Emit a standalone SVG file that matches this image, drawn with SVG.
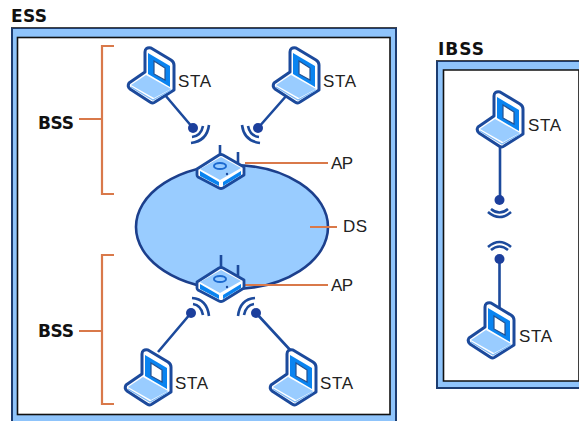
<svg xmlns="http://www.w3.org/2000/svg" xmlns:xlink="http://www.w3.org/1999/xlink" width="579" height="421" viewBox="0 0 579 421">
<style>
.t{font-family:"Liberation Sans",Arial,sans-serif;font-size:17px;fill:#222}
.b{font-family:"DejaVu Sans",Verdana,sans-serif;font-size:17px;font-weight:bold;fill:#111}
.o{fill:none;stroke:#d9794a;stroke-width:2.2}
.l{fill:none;stroke:#1c4a9c;stroke-width:2.6}
.w{fill:none;stroke:#1c4a9c;stroke-width:2.6}
</style>
<defs>
<g id="laptop">
<path d="M1,35 L17,24 V4 Q17,-1 23,0 L43,12 Q46,14 46,17 V42 L27,54 Q25,56 22,54 L2,41 Q-1,38 1,35Z" fill="#fff" stroke="#1c4a9c" stroke-width="3" stroke-linejoin="round"/>
<path d="M20,5 L42,18 V39 L20,26Z" fill="#0a84f0"/>
<path d="M26,13 L37,20 V32 L26,26Z" fill="#fff" stroke="#24508f" stroke-width="1.200"/>
<path d="M3,37 L18,27 L43,41 L26,50Z" fill="#99ccff"/>
<path d="M3,39 L25,52 L43,42" fill="none" stroke="#7db8f5" stroke-width="1.200"/>
</g>
<g id="router">
<path d="M0,18 L22,4 Q24,3 26,4 L47,16 V24 L26,37 Q24,38 22,37 L1,26 Q0,25 0,24Z" fill="#fff" stroke="#1c4a9c" stroke-width="2.800" stroke-linejoin="round"/>
<path d="M3,18 L24,6 L44,17 L23,29Z" fill="#99ccff"/>
<path d="M3,20 L22,31 V35 L3,25Z" fill="#0a84f0"/>
<path d="M26,31 L44,20 V24 L26,35Z" fill="#0a84f0"/>
<ellipse cx="23" cy="15" rx="6" ry="3" fill="none" stroke="#1c6ad0" stroke-width="2"/>
<circle cx="30" cy="23" r="1.200" fill="#1c4a9c"/>
</g>
</defs>
<rect width="579" height="421" fill="#fff"/>
<g id="ess-frame">
<path d="M12,421 V28 H396 V421" fill="#8fc4fb" stroke="#1c3c70" stroke-width="2"/>
<path d="M11.500,27.500 H396.500" stroke="#444" fill="none"/>
<rect x="17.500" y="37.500" width="372.500" height="377" fill="#fff" stroke="#111" stroke-width="1.600"/>
<text class="b" x="11" y="22" textLength="36">ESS</text>
</g>
<g id="ibss-frame">
<path d="M579,61 H437 V388 H579" fill="#8fc4fb" stroke="#1c3c70" stroke-width="2"/>
<path d="M436,60.500 H579" stroke="#444" fill="none"/>
<path d="M579,70 H443.500 V381 H579Z" fill="#fff" stroke="#111" stroke-width="1.600"/>
<text class="b" x="438" y="55" textLength="46">IBSS</text>
</g>
<g id="ds">
<ellipse cx="232" cy="227" rx="96" ry="62" fill="#99ccff" stroke="#1c3f8c" stroke-width="2.600"/>
<text class="t" x="343" y="232" textLength="24">DS</text>
</g>
<g id="connectors">
<path class="o" d="M114,46 H102 V194 H114 M79,119 H102"/>
<path class="o" d="M114,255 H102 V404 H114 M79,331 H102"/>
<path class="o" d="M245,163 H328 M245,285 H328 M310,227 H337"/>
<path class="l" d="M165,95 L193,128 M287,95 L258,128 M158,352 L191,313 M292,352 L256,313 M500,145 V200 M499.500,259 V310"/>
<g id="radio-links">
<circle cx="193" cy="128" r="5" fill="#1c3f9c"/><circle cx="258" cy="128" r="5" fill="#1c3f9c"/>
<circle cx="191" cy="313" r="5" fill="#1c3f9c"/><circle cx="256" cy="313" r="5" fill="#1c3f9c"/>
<circle cx="499.500" cy="200" r="5" fill="#1c3f9c"/><circle cx="499.500" cy="259" r="5" fill="#1c3f9c"/>
<path class="w" d="M192,137 Q201,136 203,126 M191,143 Q207,141 209,125"/>
<path class="w" d="M259,137 Q250,136 248,126 M260,143 Q244,141 242,125"/>
<path class="w" d="M193,304 Q201,305 203,315 M192,298 Q207,299 209,316"/>
<path class="w" d="M254,304 Q246,305 244,315 M255,298 Q240,299 238,316"/>
<path class="w" d="M491,209 Q499.500,216 508,209 M488,212 Q499.500,222 511,212"/>
<path class="w" d="M491,250 Q499.500,243 508,250 M488,247 Q499.500,237 511,247"/>
</g>
</g>
<g id="ap-top"><path class="l" d="M220,145 V155 M238,152 V166"/><use xlink:href="#router" href="#router" x="197" y="151"/><text class="t" x="331" y="169" textLength="22">AP</text></g>
<g id="ap-bottom"><path class="l" d="M221,255 V268 M238,265 V280"/><use xlink:href="#router" href="#router" x="197" y="264"/><text class="t" x="331" y="291" textLength="22">AP</text></g>
<g id="sta-1"><use xlink:href="#laptop" href="#laptop" x="128" y="48"/><text class="t" x="178" y="87" textLength="33">STA</text></g>
<g id="sta-2"><use xlink:href="#laptop" href="#laptop" x="273" y="48"/><text class="t" x="323" y="87" textLength="33">STA</text></g>
<g id="sta-3"><use xlink:href="#laptop" href="#laptop" x="125" y="350"/><text class="t" x="175" y="389" textLength="33">STA</text></g>
<g id="sta-4"><use xlink:href="#laptop" href="#laptop" x="270" y="350"/><text class="t" x="320" y="389" textLength="33">STA</text></g>
<g id="sta-5"><use xlink:href="#laptop" href="#laptop" x="477" y="92"/><text class="t" x="528" y="131" textLength="33">STA</text></g>
<g id="sta-6"><use xlink:href="#laptop" href="#laptop" x="468" y="303"/><text class="t" x="519" y="342" textLength="33">STA</text></g>
<g id="bss-1"><text class="b" x="38" y="129" textLength="36">BSS</text></g>
<g id="bss-2"><text class="b" x="38" y="337" textLength="36">BSS</text></g>
</svg>
